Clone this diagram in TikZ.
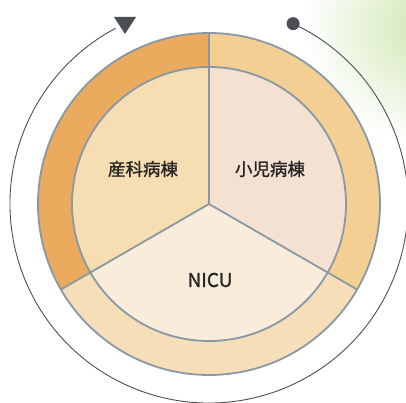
\documentclass[tikz,border=0pt]{standalone}
\usepackage{fontspec}
\newfontfamily\cjkfont[FakeBold=1.2]{Noto Sans CJK JP}
\usetikzlibrary{calc}
\definecolor{ringL}{RGB}{234,171,94}
\definecolor{ringR}{RGB}{243,207,148}
\definecolor{ringB}{RGB}{245,222,184}
\definecolor{inL}{RGB}{246,221,178}
\definecolor{inR}{RGB}{244,225,210}
\definecolor{inB}{RGB}{249,236,218}
\definecolor{edge}{RGB}{136,152,164}
\definecolor{arcc}{RGB}{75,78,82}
\definecolor{leaf}{RGB}{210,232,182}
\tikzset{
  sepline/.style={draw=edge, line width=1.8pt},
  lbl/.style={font=\cjkfont\fontsize{17.5}{19}\selectfont, text=black!85, inner sep=0pt},
  cyc/.style={draw=arcc, line width=0.9pt}
}
\begin{document}
\begin{tikzpicture}[x=1pt,y=1pt]
\useasboundingbox (0,0) rectangle (406,402);
\begin{scope}
\clip (0,0) rectangle (406,402);
\shade[inner color=leaf, outer color=white] (420,375) circle (115);
\end{scope}
\coordinate (c) at (209,198);
% outer ring sectors
\fill[ringL] (c) -- ++(90:171) arc[start angle=90, end angle=210, radius=171] -- cycle;
\fill[ringB] (c) -- ++(210:171) arc[start angle=210, end angle=330, radius=171] -- cycle;
\fill[ringR] (c) -- ++(330:171) arc[start angle=330, end angle=450, radius=171] -- cycle;
% inner sectors
\fill[inL] (c) -- ++(90:137) arc[start angle=90, end angle=210, radius=137] -- cycle;
\fill[inB] (c) -- ++(210:137) arc[start angle=210, end angle=330, radius=137] -- cycle;
\fill[inR] (c) -- ++(330:137) arc[start angle=330, end angle=450, radius=137] -- cycle;
% borders
\draw[sepline] (c) circle (171);
\draw[sepline] (c) circle (137);
\coordinate (p90) at ($(c)+(90:171)$);
\coordinate (p210) at ($(c)+(210:171)$);
\coordinate (p330) at ($(c)+(330:171)$);
\draw[sepline] (c) -- (p90);
\draw[sepline] (c) -- (p210);
\draw[sepline] (c) -- (p330);
% cycle arc
\coordinate (dot) at ($(c)+(65:199)$);
\draw[cyc] (dot) arc[start angle=65, end angle=-242, radius=199];
\fill[arcc] (dot) circle (6.5);
\coordinate (tri) at (125,385);
\fill[arcc] ($(tri)+(-11,0)$) -- ($(tri)+(11,0)$) -- ($(tri)+(0,-17)$) -- cycle;
% labels
\node[lbl] (obst) at (143,233) {産科病棟};
\node[lbl] (ped) at (270,233) {小児病棟};
\node[lbl, font=\cjkfont\fontsize{19}{21}\selectfont] (nicu) at (210,122) {NICU};
\end{tikzpicture}
\end{document}
